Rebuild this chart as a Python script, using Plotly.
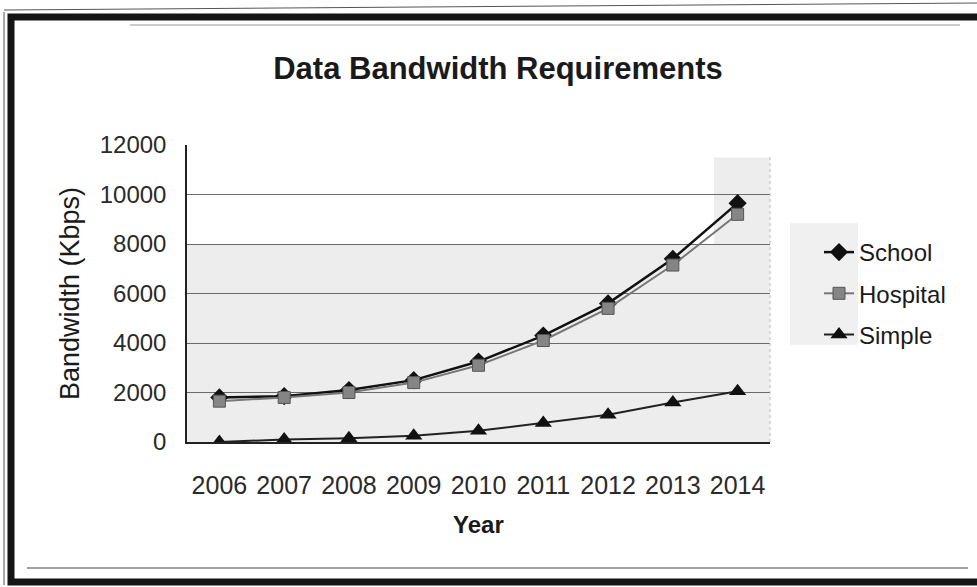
import plotly.graph_objects as go

# Yearly bandwidth requirements (Kbps)
years = ["2006", "2007", "2008", "2009", "2010", "2011", "2012", "2013", "2014"]
school = [1800, 1850, 2100, 2500, 3250, 4300, 5600, 7400, 9650]
hospital = [1650, 1800, 2000, 2400, 3100, 4100, 5400, 7150, 9200]
simple = [0, 100, 150, 250, 450, 770, 1100, 1600, 2050]

y_ticks = [0, 2000, 4000, 6000, 8000, 10000, 12000]
y_tick_labels = ["0", "2000", "4000", "6000", "8000", "10000", "12000"]

W, H = 977, 587
L, R, T, B = 187, 207, 145, 145
PW, PH = W - L - R, H - T - B


def px(x):
    return (x - L) / PW


def py(y):
    return (H - B - y) / PH


FONT = "Arial, Liberation Sans, sans-serif"

fig = go.Figure()

fig.add_trace(go.Scatter(
    x=years, y=school, name="School", mode="lines+markers",
    line=dict(color="#111111", width=2.5),
    marker=dict(symbol="diamond", size=14, color="#111111"),
    legendgroup="a",
))
fig.add_trace(go.Scatter(
    x=years, y=hospital, name="Hospital", mode="lines+markers",
    line=dict(color="#777777", width=2),
    marker=dict(symbol="square", size=12, color="#858585",
                line=dict(color="#555555", width=1)),
    legendgroup="b",
))
fig.add_trace(go.Scatter(
    x=years, y=simple, name="Simple", mode="lines+markers",
    line=dict(color="#222222", width=2),
    marker=dict(symbol="triangle-up", size=15, color="#111111"),
    legendgroup="c",
))

shapes = [
    # shaded lower band of the plot area
    dict(type="rect", xref="x domain", yref="y", x0=0, x1=1, y0=0, y1=8000,
         fillcolor="#ededed", line=dict(width=0), layer="below"),
    dict(type="rect", xref="x domain", yref="y", x0=0.904, x1=1, y0=8000, y1=11500,
         fillcolor="#ededed", line=dict(width=0), layer="below"),
    # shading behind legend symbols
    dict(type="rect", xref="paper", yref="paper", x0=px(790), x1=px(858),
         y0=py(345), y1=py(223), fillcolor="#f0f0f0", line=dict(width=0), layer="below"),
    # outer frame
    dict(type="rect", xref="paper", yref="paper", x0=px(11), x1=px(990),
         y0=py(582), y1=py(17), line=dict(color="#151515", width=7)),
    dict(type="line", xref="paper", yref="paper", x0=px(4), x1=px(4),
         y0=py(585), y1=py(12), line=dict(color="#555555", width=1)),
    dict(type="line", xref="paper", yref="paper", x0=px(4), x1=px(977),
         y0=py(10), y1=py(3), line=dict(color="#555555", width=1)),
    dict(type="line", xref="paper", yref="paper", x0=px(130), x1=px(960),
         y0=py(25), y1=py(25), line=dict(color="#bbbbbb", width=1.5)),
    dict(type="line", xref="paper", yref="paper", x0=px(27), x1=px(968),
         y0=py(568), y1=py(568), line=dict(color="#444444", width=1.2)),
    dict(type="line", xref="x domain", yref="y domain", x0=1, x1=1,
         y0=0, y1=0.96, line=dict(color="#bbbbbb", width=1, dash="dot")),
]

fig.update_layout(
    width=W, height=H,
    margin=dict(l=L, r=R, t=T, b=B),
    paper_bgcolor="white",
    plot_bgcolor="white",
    font=dict(family=FONT, color="#1a1a1a", size=23),
    title=dict(text="<b>Data Bandwidth Requirements</b>", x=498 / W, xanchor="center",
               y=1 - 68 / H, yanchor="middle",
               font=dict(family=FONT, size=31, color="#1a1a1a")),
    xaxis=dict(
        type="category", range=[-0.5, 8.5],
        showgrid=False, showline=True, linecolor="#222222", linewidth=1.5,
        ticks="", ticklabelstandoff=20,
        tickfont=dict(size=25, color="#2a2a2a"),
    ),
    yaxis=dict(
        range=[0, 12000], tickvals=y_ticks, ticktext=y_tick_labels,
        showgrid=True, gridcolor="#6a6a6a", gridwidth=1,
        showline=True, linecolor="#222222", linewidth=1.5,
        zeroline=False, ticks="", ticklabelstandoff=14,
        tickfont=dict(size=24, color="#2a2a2a"),
        title=dict(text="Bandwidth (Kbps)", font=dict(size=27, color="#1a1a1a"), standoff=12),
    ),
    legend=dict(
        x=px(819), xanchor="left", y=py(230), yanchor="top",
        bgcolor="rgba(0,0,0,0)", borderwidth=0,
        font=dict(size=24, color="#1a1a1a"),
        traceorder="grouped", tracegroupgap=7,
        itemwidth=30,
    ),
    annotations=[
        # x-axis title
        dict(text="<b>Year</b>", xref="x domain", yref="paper", x=0.5, y=py(524),
             xanchor="center", yanchor="middle", showarrow=False,
             font=dict(size=24, color="#1a1a1a")),
    ],
    shapes=shapes,
    showlegend=True,
)

fig.write_html("out.html")
